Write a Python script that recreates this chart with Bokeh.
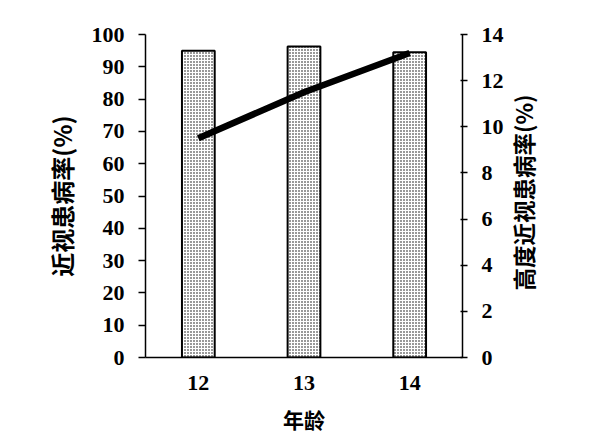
import math
from bokeh.plotting import figure
from bokeh.models import Range1d, LinearAxis, FixedTicker
from bokeh.embed import file_html
from bokeh.resources import INLINE

ages = [12, 13, 14]
age_labels = ["12", "13", "14"]
myopia_rate = [95.0, 96.3, 94.5]
high_myopia_rate = [9.5, 11.5, 13.2]
left_ticks = [0, 10, 20, 30, 40, 50, 60, 70, 80, 90, 100]
right_ticks = [0, 2, 4, 6, 8, 10, 12, 14]
right_title_anchor = [2.9]

NUM_FONT = "Liberation Serif"
CJK_FONT = "Noto Sans CJK SC"

p = figure(width=584, height=440, output_backend="svg", toolbar_location=None,
           x_range=Range1d(11.5, 14.5), y_range=Range1d(0, 100),
           min_border_left=145, min_border_right=122, min_border_top=34, min_border_bottom=83)
p.outline_line_color = None
p.xgrid.visible = False
p.ygrid.visible = False
p.background_fill_color = "white"
p.border_fill_color = "white"

p.extra_y_ranges = {"right": Range1d(0, 14)}

p.vbar(x=ages, top=myopia_rate, width=0.31, bottom=0,
       fill_color="white", line_color="black", line_width=2,
       hatch_pattern="dot", hatch_color="black", hatch_scale=3, hatch_weight=1.2)

p.line(x=ages, y=high_myopia_rate, y_range_name="right",
       line_color="black", line_width=6.5, line_join="round")

# x axis
xa = p.xaxis[0]
xa.ticker = FixedTicker(ticks=ages)
xa.major_label_overrides = {a: l for a, l in zip(ages, age_labels)}
xa.major_tick_out = 0
xa.major_tick_in = 0
xa.minor_tick_out = 0
xa.minor_tick_in = 0
xa.axis_line_width = 1.5
xa.axis_line_color = "black"
xa.major_label_text_font = NUM_FONT
xa.major_label_text_font_style = "bold"
xa.major_label_text_font_size = "22px"
xa.major_label_text_color = "black"
xa.major_label_standoff = 18
xa.axis_label = "年龄"
xa.axis_label_text_font = CJK_FONT
xa.axis_label_text_font_style = "bold"
xa.axis_label_text_font_size = "21px"
xa.axis_label_text_color = "black"
xa.axis_label_standoff = 11

# left axis
ya = p.yaxis[0]
ya.ticker = FixedTicker(ticks=left_ticks)
ya.major_tick_out = 7
ya.major_tick_in = 0
ya.minor_tick_out = 0
ya.minor_tick_in = 0
ya.axis_line_width = 1.5
ya.major_tick_line_width = 1.5
ya.axis_line_color = "black"
ya.major_label_text_font = NUM_FONT
ya.major_label_text_font_style = "bold"
ya.major_label_text_font_size = "22px"
ya.major_label_text_color = "black"
ya.major_label_standoff = 14
ya.axis_label = "近视患病率(%)"
ya.axis_label_text_font = CJK_FONT
ya.axis_label_text_font_style = "bold"
ya.axis_label_text_font_size = "24px"
ya.axis_label_text_color = "black"
ya.axis_label_standoff = 10

# right axis
ra = LinearAxis(y_range_name="right", ticker=FixedTicker(ticks=right_ticks))
ra.major_tick_out = 5
ra.major_tick_in = 2
ra.minor_tick_out = 0
ra.minor_tick_in = 0
ra.axis_line_width = 1.5
ra.major_tick_line_width = 1.5
ra.axis_line_color = "black"
ra.major_label_text_font = NUM_FONT
ra.major_label_text_font_style = "bold"
ra.major_label_text_font_size = "22px"
ra.major_label_text_color = "black"
ra.major_label_standoff = 14
p.add_layout(ra, "right")

# right title (reads bottom-to-top), drawn as the single label of a bare axis
rt = LinearAxis(y_range_name="right", ticker=FixedTicker(ticks=right_title_anchor))
rt.major_label_overrides = {right_title_anchor[0]: "高度近视患病率(%)"}
rt.major_label_orientation = math.pi / 2
rt.axis_line_color = None
rt.major_tick_line_color = None
rt.minor_tick_line_color = None
rt.major_tick_out = 0
rt.major_tick_in = 0
rt.major_label_standoff = 17
rt.major_label_text_font = CJK_FONT
rt.major_label_text_font_style = "bold"
rt.major_label_text_font_size = "22.5px"
rt.major_label_text_color = "black"
p.add_layout(rt, "right")

open("out.html", "w").write(file_html(p, INLINE))
